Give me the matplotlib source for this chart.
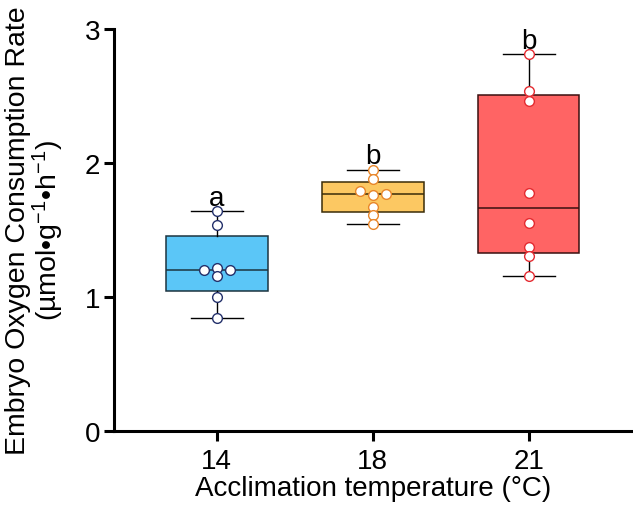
import matplotlib
matplotlib.use("Agg")
import matplotlib.pyplot as plt
import numpy as np

plt.rcParams['font.family'] = ['Liberation Sans', 'DejaVu Sans']
plt.rcParams['mathtext.fontset'] = 'custom'
plt.rcParams['mathtext.rm'] = 'Liberation Sans'
plt.rcParams['mathtext.it'] = 'Liberation Sans'
plt.rcParams['mathtext.default'] = 'regular'

categories = ["14", "18", "21"]
values_14 = [1.64, 1.54, 1.20, 1.215, 1.20, 1.155, 1.00, 0.84]
values_18 = [1.948, 1.88, 1.79, 1.76, 1.77, 1.67, 1.61, 1.545]
values_21 = [2.81, 2.537, 2.46, 1.774, 1.55, 1.37, 1.306, 1.157]
q1 = [1.045, 1.634, 1.328]
medians = [1.20, 1.765, 1.664]
q3 = [1.452, 1.858, 2.507]
letters = ["a", "b", "b"]

box_colors = ["#5BC6F7", "#FCC862", "#FF6464"]
box_edges = ["#1C3440", "#3A2C08", "#3A1010"]
point_edges = ["#23306B", "#E8862A", "#E42A30"]

series = [values_14, values_18, values_21]

fig = plt.figure(figsize=(6.33, 5.06), dpi=100)
ax = fig.add_axes([0.180, 0.146, 0.818, 0.795])

stats = []
for i, vals in enumerate(series):
    stats.append(dict(med=medians[i], q1=q1[i], q3=q3[i],
                      whislo=min(vals), whishi=max(vals), fliers=[], label=categories[i]))

for i, st in enumerate(stats):
    ax.bxp([st], positions=[i], widths=0.65, patch_artist=True, showfliers=False,
           boxprops=dict(facecolor=box_colors[i], edgecolor=box_edges[i], linewidth=1.1),
           medianprops=dict(color=box_edges[i], linewidth=1.1),
           whiskerprops=dict(color="black", linewidth=1.0),
           capprops=dict(color="black", linewidth=1.0),
           capwidths=0.33, zorder=2)

def swarm(vals, dy_thr=0.045, dx=0.083):
    order = np.argsort(vals, kind="stable")
    placed = []
    offs = np.zeros(len(vals))
    for idx in order:
        v = vals[idx]
        for cand in [0, dx, -dx, 2 * dx, -2 * dx]:
            ok = all(not (abs(px - cand) < 1e-9 and abs(pv - v) < dy_thr) for px, pv in placed)
            if ok:
                offs[idx] = cand
                placed.append((cand, v))
                break
    return offs

for i, vals in enumerate(series):
    offs = swarm(vals)
    ax.plot(i + offs, vals, linestyle="none", marker="o", markersize=7,
            markerfacecolor="white", markeredgecolor=point_edges[i],
            markeredgewidth=1.0, zorder=3)
    ax.text(i, max(vals) + 0.005, letters[i], ha="center", va="bottom", fontsize=20)

ax.set_xlim(-0.66, 2.66)
ax.set_ylim(0, 3)
ax.set_yticks([0, 1, 2, 3])
ax.set_xticks([0, 1, 2])
ax.set_xticklabels(categories)
ax.spines['top'].set_visible(False)
ax.spines['right'].set_visible(False)
for s in ['left', 'bottom']:
    ax.spines[s].set_linewidth(2.2)
ax.tick_params(axis='both', width=2.2, length=7, labelsize=20)
ax.tick_params(axis='x', pad=5)
ax.tick_params(axis='y', pad=3)
ax.set_xlabel("Acclimation temperature (°C)", fontsize=20, labelpad=1)
ax.set_ylabel("Embryo Oxygen Consumption Rate\n(µmol•g$^{-1}$•h$^{-1}$)", fontsize=20.5,
              linespacing=1.0, labelpad=13)

fig.savefig("out.png", dpi=100)
